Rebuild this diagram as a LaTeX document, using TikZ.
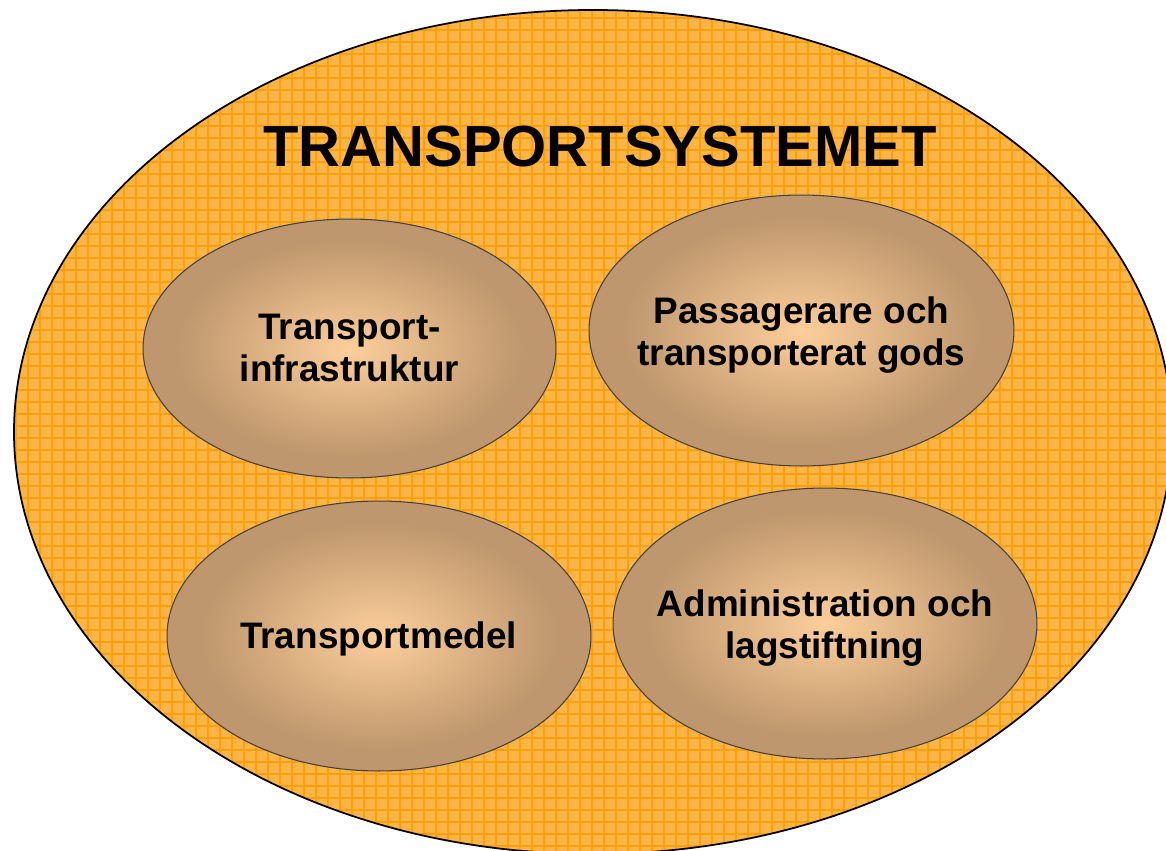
\documentclass[tikz,border=0pt]{standalone}
\usepackage{fontspec}
\setmainfont{Liberation Sans}
\usetikzlibrary{shapes.geometric,positioning}

\definecolor{ringfill}{RGB}{255,181,70}
\definecolor{ringgrid}{RGB}{255,160,10}
\definecolor{eggin}{RGB}{253,206,154}
\definecolor{eggout}{RGB}{190,151,110}
\pgfdeclareradialshading{eggshade}{\pgfpoint{0bp}{0bp}}{color(0bp)=(eggin); color(21bp)=(eggout); color(50bp)=(eggout)}

\tikzset{
  egg/.style={ellipse, draw=black!75, line width=0.6pt, shading=eggshade, inner sep=0pt},
  egglabel/.style={font=\fontsize{21}{24}\selectfont\bfseries, align=center},
  gridline/.style={ringgrid, line width=0.7pt}
}

\begin{document}
\begin{tikzpicture}[x=0.02cm, y=-0.02cm]
\useasboundingbox (0,0) rectangle (1166,851);
% outer ring with grid texture
\fill[ringfill] (593,432) ellipse [x radius=579, y radius=422];
\begin{scope}
  \clip (593,432) ellipse [x radius=579, y radius=422];
  \foreach \g in {4,16,...,1172} \draw[gridline] (\g,0) -- (\g,851);
  \foreach \g in {6,18,...,851} \draw[gridline] (0,\g) -- (1166,\g);
\end{scope}
\draw[line width=1pt] (593,432) ellipse [x radius=579, y radius=422];
\node[font=\fontsize{33}{40}\selectfont\bfseries] (title) at (600,147) {TRANSPORTSYSTEMET};

% inner parts
\node[egg, minimum width=8.26cm, minimum height=5.18cm] (infra) at (349.5,348.5) {};
\node[egg, minimum width=8.5cm, minimum height=5.42cm] (goods) at (801.5,330.5) {};
\node[egg, minimum width=8.48cm, minimum height=5.4cm] (vehicle) at (379,636) {};
\node[egg, minimum width=8.48cm, minimum height=5.42cm] (admin) at (825,623.5) {};

\node[egglabel] (infratext) at (349.5,348) {Transport-\\infrastruktur};
\node[egglabel] (goodstext) at (801.5,335) {Passagerare och\\transporterat gods};
\node[egglabel] (vehicletext) at (378.5,639) {Transportmedel};
\node[egglabel] (admintext) at (825,628) {Administration och\\lagstiftning};
\end{tikzpicture}
\end{document}
